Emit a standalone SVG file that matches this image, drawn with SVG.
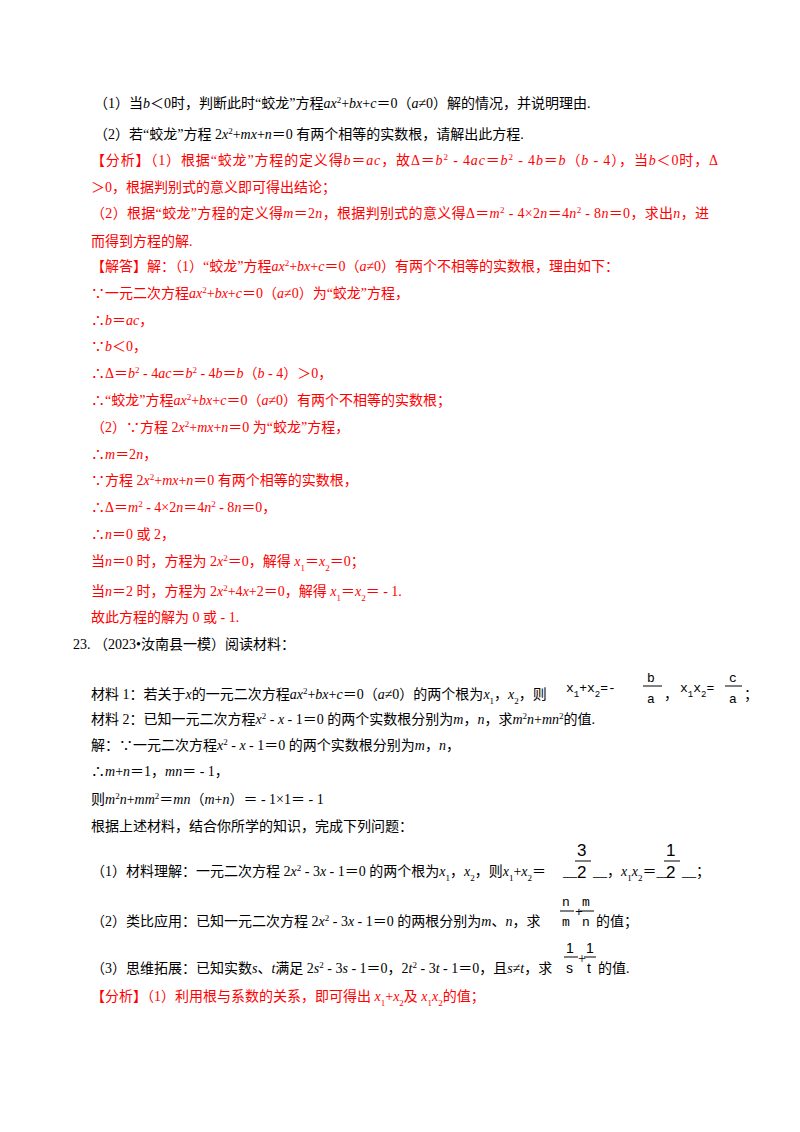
<svg xmlns="http://www.w3.org/2000/svg" width="800" height="1132" viewBox="0 0 800 1132">
<style>
text{font-family:"Liberation Serif","Noto Sans CJK SC",serif;font-size:14px;fill:#000}
.r{fill:#ff0000}
.i{font-style:italic}
.s{font-size:9px;baseline-shift:super}
.b{font-size:9px;baseline-shift:sub}
.m{font-family:"Liberation Mono","DejaVu Sans Mono",monospace;font-size:13px}
.f{font-family:"Liberation Sans",sans-serif;font-size:17px}
.g{font-family:"Liberation Sans",sans-serif;font-size:14px}
</style>
<rect width="800" height="1132" fill="#fff"/>
<g id="text">
<text x="94" y="108">（1）当<tspan class="i">b</tspan>＜0时，判断此时“蛟龙”方程<tspan class="i">ax</tspan><tspan class="s">2</tspan>+<tspan class="i">bx</tspan>+<tspan class="i">c</tspan>＝0（<tspan class="i">a</tspan>≠0）解的情况，并说明理由.</text>
<text x="94" y="139">（2）若“蛟龙”方程 2<tspan class="i">x</tspan><tspan class="s">2</tspan>+<tspan class="i">mx</tspan>+<tspan class="i">n</tspan>＝0 有两个相等的实数根，请解出此方程.</text>
<text x="91" y="165" class="r" textLength="627" lengthAdjust="spacing">【分析】（1）根据“蛟龙”方程的定义得<tspan class="i">b</tspan>＝<tspan class="i">ac</tspan>，故Δ＝<tspan class="i">b</tspan><tspan class="s">2</tspan> - 4<tspan class="i">ac</tspan>＝<tspan class="i">b</tspan><tspan class="s">2</tspan> - 4<tspan class="i">b</tspan>＝<tspan class="i">b</tspan>（<tspan class="i">b</tspan> - 4），当<tspan class="i">b</tspan>＜0时，Δ</text>
<text x="91" y="192" class="r">＞0，根据判别式的意义即可得出结论；</text>
<text x="91" y="218" class="r" textLength="618" lengthAdjust="spacing">（2）根据“蛟龙”方程的定义得<tspan class="i">m</tspan>＝2<tspan class="i">n</tspan>，根据判别式的意义得Δ＝<tspan class="i">m</tspan><tspan class="s">2</tspan> - 4×2<tspan class="i">n</tspan>＝4<tspan class="i">n</tspan><tspan class="s">2</tspan> - 8<tspan class="i">n</tspan>＝0，求出<tspan class="i">n</tspan>，进</text>
<text x="91" y="246" class="r">而得到方程的解.</text>
<text x="91" y="271" class="r">【解答】解：（1）“蛟龙”方程<tspan class="i">ax</tspan><tspan class="s">2</tspan>+<tspan class="i">bx</tspan>+<tspan class="i">c</tspan>＝0（<tspan class="i">a</tspan>≠0）有两个不相等的实数根，理由如下：</text>
<text x="91" y="298" class="r">∵一元二次方程<tspan class="i">ax</tspan><tspan class="s">2</tspan>+<tspan class="i">bx</tspan>+<tspan class="i">c</tspan>＝0（<tspan class="i">a</tspan>≠0）为“蛟龙”方程，</text>
<text x="91" y="325" class="r">∴<tspan class="i">b</tspan>＝<tspan class="i">ac</tspan>，</text>
<text x="91" y="351" class="r">∵<tspan class="i">b</tspan>＜0，</text>
<text x="91" y="378" class="r">∴Δ＝<tspan class="i">b</tspan><tspan class="s">2</tspan> - 4<tspan class="i">ac</tspan>＝<tspan class="i">b</tspan><tspan class="s">2</tspan> - 4<tspan class="i">b</tspan>＝<tspan class="i">b</tspan>（<tspan class="i">b</tspan> - 4）＞0，</text>
<text x="91" y="405" class="r">∴“蛟龙”方程<tspan class="i">ax</tspan><tspan class="s">2</tspan>+<tspan class="i">bx</tspan>+<tspan class="i">c</tspan>＝0（<tspan class="i">a</tspan>≠0）有两个不相等的实数根；</text>
<text x="91" y="432" class="r">（2）∵方程 2<tspan class="i">x</tspan><tspan class="s">2</tspan>+<tspan class="i">mx</tspan>+<tspan class="i">n</tspan>＝0 为“蛟龙”方程，</text>
<text x="91" y="459" class="r">∴<tspan class="i">m</tspan>＝2<tspan class="i">n</tspan>，</text>
<text x="91" y="485" class="r">∵方程 2<tspan class="i">x</tspan><tspan class="s">2</tspan>+<tspan class="i">mx</tspan>+<tspan class="i">n</tspan>＝0 有两个相等的实数根，</text>
<text x="91" y="512" class="r">∴Δ＝<tspan class="i">m</tspan><tspan class="s">2</tspan> - 4×2<tspan class="i">n</tspan>＝4<tspan class="i">n</tspan><tspan class="s">2</tspan> - 8<tspan class="i">n</tspan>＝0，</text>
<text x="91" y="539" class="r">∴<tspan class="i">n</tspan>＝0 或 2，</text>
<text x="91" y="566" class="r">当<tspan class="i">n</tspan>＝0 时，方程为 2<tspan class="i">x</tspan><tspan class="s">2</tspan>＝0，解得 <tspan class="i">x</tspan><tspan class="b">1</tspan>＝<tspan class="i">x</tspan><tspan class="b">2</tspan>＝0；</text>
<text x="91" y="596" class="r">当<tspan class="i">n</tspan>＝2 时，方程为 2<tspan class="i">x</tspan><tspan class="s">2</tspan>+4<tspan class="i">x</tspan>+2＝0，解得 <tspan class="i">x</tspan><tspan class="b">1</tspan>＝<tspan class="i">x</tspan><tspan class="b">2</tspan>＝ - 1.</text>
<text x="91" y="622" class="r">故此方程的解为 0 或 - 1.</text>
<text x="73" y="649">23.  （2023•汝南县一模）阅读材料：</text>
<text x="91" y="699">材料 1：若关于<tspan class="i">x</tspan>的一元二次方程<tspan class="i">ax</tspan><tspan class="s">2</tspan>+<tspan class="i">bx</tspan>+<tspan class="i">c</tspan>＝0（<tspan class="i">a</tspan>≠0）的两个根为<tspan class="i">x</tspan><tspan class="b">1</tspan>，<tspan class="i">x</tspan><tspan class="b">2</tspan>，则</text>
<text x="566" y="692" class="m">x<tspan class="b">1</tspan>+x<tspan class="b">2</tspan>=-</text>
<text x="647" y="682" class="m">b</text><line x1="643" y1="686" x2="662" y2="686" stroke="#000"/><text x="647" y="703" class="m">a</text>
<text x="664" y="699">，</text>
<text x="680" y="692" class="m">x<tspan class="b">1</tspan>x<tspan class="b">2</tspan>=</text>
<text x="729" y="682" class="m">c</text><line x1="725" y1="686" x2="742" y2="686" stroke="#000"/><text x="729" y="703" class="m">a</text>
<text x="744" y="699">；</text>
<text x="91" y="724">材料 2：已知一元二次方程<tspan class="i">x</tspan><tspan class="s">2</tspan> - <tspan class="i">x</tspan> - 1＝0 的两个实数根分别为<tspan class="i">m</tspan>，<tspan class="i">n</tspan>，求<tspan class="i">m</tspan><tspan class="s">2</tspan><tspan class="i">n</tspan>+<tspan class="i">mn</tspan><tspan class="s">2</tspan>的值.</text>
<text x="91" y="750">解：∵一元二次方程<tspan class="i">x</tspan><tspan class="s">2</tspan> - <tspan class="i">x</tspan> - 1＝0 的两个实数根分别为<tspan class="i">m</tspan>，<tspan class="i">n</tspan>，</text>
<text x="91" y="776">∴<tspan class="i">m</tspan>+<tspan class="i">n</tspan>＝1，<tspan class="i">mn</tspan>＝ - 1，</text>
<text x="91" y="804">则<tspan class="i">m</tspan><tspan class="s">2</tspan><tspan class="i">n</tspan>+<tspan class="i">mm</tspan><tspan class="s">2</tspan>＝<tspan class="i">mn</tspan>（<tspan class="i">m</tspan>+<tspan class="i">n</tspan>）＝ - 1×1＝ - 1</text>
<text x="91" y="831">根据上述材料，结合你所学的知识，完成下列问题：</text>
<text x="91" y="876">（1）材料理解：一元二次方程 2<tspan class="i">x</tspan><tspan class="s">2</tspan> - 3<tspan class="i">x</tspan> - 1＝0 的两个根为<tspan class="i">x</tspan><tspan class="b">1</tspan>，<tspan class="i">x</tspan><tspan class="b">2</tspan>，则<tspan class="i">x</tspan><tspan class="b">1</tspan>+<tspan class="i">x</tspan><tspan class="b">2</tspan>＝</text>
<text x="563" y="876">__</text>
<text x="577" y="856" class="f">3</text><line x1="575" y1="861" x2="591" y2="861" stroke="#000"/><text x="577" y="878" class="f">2</text>
<text x="593" y="876">__，<tspan class="i">x</tspan><tspan class="b">1</tspan><tspan class="i">x</tspan><tspan class="b">2</tspan>＝__</text>
<text x="666" y="856" class="f">1</text><line x1="664" y1="861" x2="680" y2="861" stroke="#000"/><text x="666" y="878" class="f">2</text>
<text x="682" y="876">__；</text>
<text x="91" y="926">（2）类比应用：已知一元二次方程 2<tspan class="i">x</tspan><tspan class="s">2</tspan> - 3<tspan class="i">x</tspan> - 1＝0 的两根分别为<tspan class="i">m</tspan>、<tspan class="i">n</tspan>，求</text>
<text x="562" y="906" class="m">n</text><line x1="560" y1="911" x2="574" y2="911" stroke="#000"/><text x="562" y="926" class="m">m</text>
<text x="575" y="916" class="m" font-size="11">+</text>
<text x="582" y="906" class="m">m</text><line x1="580" y1="911" x2="594" y2="911" stroke="#000"/><text x="582" y="926" class="m">n</text>
<text x="596" y="926">的值；</text>
<text x="91" y="973">（3）思维拓展：已知实数<tspan class="i">s</tspan>、<tspan class="i">t</tspan>满足 2<tspan class="i">s</tspan><tspan class="s">2</tspan> - 3<tspan class="i">s</tspan> - 1＝0，2<tspan class="i">t</tspan><tspan class="s">2</tspan> - 3<tspan class="i">t</tspan> - 1＝0，且<tspan class="i">s</tspan>≠<tspan class="i">t</tspan>，求</text>
<text x="566" y="953" class="g">1</text><line x1="564" y1="957" x2="578" y2="957" stroke="#000"/><text x="566" y="973" class="g">s</text>
<text x="578" y="963" font-size="11">+</text>
<text x="586" y="953" class="g">1</text><line x1="584" y1="957" x2="596" y2="957" stroke="#000"/><text x="587" y="973" class="g">t</text>
<text x="598" y="973">的值.</text>
<text x="91" y="1001" class="r">【分析】（1）利用根与系数的关系，即可得出 <tspan class="i">x</tspan><tspan class="b">1</tspan>+<tspan class="i">x</tspan><tspan class="b">2</tspan>及 <tspan class="i">x</tspan><tspan class="b">1</tspan><tspan class="i">x</tspan><tspan class="b">2</tspan>的值；</text>
</g>
</svg>
